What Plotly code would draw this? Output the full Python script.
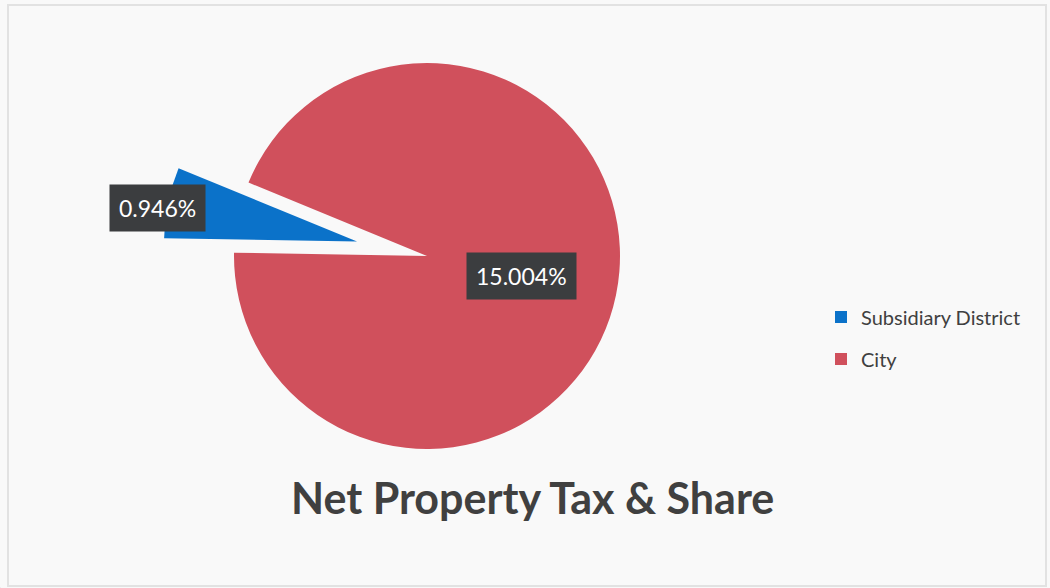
import math
import plotly.graph_objects as go

# Share of net property tax, in percent
labels = ["Subsidiary District", "City"]
shares = [0.946, 15.004]
colors = ["#0B72C9", "#D0505C"]

W, H = 1050, 588
CX, CY, R = 427, 256, 193          # pie centre and radius, px
ROTATION = 271                     # start angle, degrees clockwise from 12 o'clock
PULL = 0.37                        # exploded distance of the small slice, fraction of R

total = sum(shares)
frac = [v / total for v in shares]


def slice_angle(i, t=0.5):
    # angle at fraction t across slice i, degrees clockwise from 12 o'clock
    start = ROTATION + 360 * sum(frac[:i])
    return math.radians(start + 360 * frac[i] * t)


def unit(a):
    # screen-space unit vector for an angle measured clockwise from the top
    return math.sin(a), -math.cos(a)


def domain(cx, cy, r):
    return dict(x=[(cx - r) / W, (cx + r) / W], y=[1 - (cy + r) / H, 1 - (cy - r) / H])


clear = "rgba(0,0,0,0)"
ux, uy = unit(slice_angle(0))
bcx, bcy = CX + ux * PULL * R, CY + uy * PULL * R

fig = go.Figure()

# main disc: City slice, gap where the small slice was
fig.add_trace(go.Pie(
    labels=labels, values=shares, sort=False, direction="clockwise", rotation=ROTATION,
    marker=dict(colors=[clear, colors[1]]), textinfo="none", hoverinfo="label+value",
    showlegend=False, domain=domain(CX, CY, R),
))
# exploded Subsidiary District slice
fig.add_trace(go.Pie(
    labels=labels, values=shares, sort=False, direction="clockwise", rotation=ROTATION,
    marker=dict(colors=[colors[0], clear]), textinfo="none", hoverinfo="label+value",
    showlegend=False, domain=domain(bcx, bcy, R),
))
# legend entries, one per legend box
for i, lg in enumerate(["legend", "legend2"]):
    fig.add_trace(go.Pie(
        labels=[labels[i]], values=[shares[i]], marker=dict(colors=[colors[i]]),
        textinfo="none", hoverinfo="skip", showlegend=True, legend=lg,
        domain=dict(x=[0, 0.0005], y=[0, 0.0005]),
    ))

# value labels with dark boxes
lx, ly = unit(slice_angle(0, 0.4))
vx, vy = unit(slice_angle(1))
label_pos = [
    (bcx + lx * 1.05 * R, bcy + ly * 1.05 * R),
    (CX + vx * 0.5 * R, CY + vy * 0.5 * R),
]

annotations = []
for (px, py), v in zip(label_pos, shares):
    annotations.append(dict(
        x=px / W, y=1 - py / H, xref="paper", yref="paper", showarrow=False,
        text=f"{v:.3f}%", font=dict(family="Lato", size=23, color="#ffffff"),
        bgcolor="#3b3d3f", borderpad=9, xanchor="center", yanchor="middle",
    ))
annotations.append(dict(
    x=532 / W, y=1 - 497 / H, xref="paper", yref="paper", showarrow=False,
    text="<b>Net Property Tax & Share</b>",
    font=dict(family="Lato", size=43, color="#404040"),
    xanchor="center", yanchor="middle",
))

legend_style = dict(
    font=dict(family="Lato", size=20, color="#404040"), bgcolor="rgba(0,0,0,0)",
    xanchor="left", yanchor="middle", x=821 / W,
)

fig.update_layout(
    width=W, height=H,
    margin=dict(l=0, r=0, t=0, b=0),
    paper_bgcolor="#f9f9f9",
    annotations=annotations,
    legend=dict(**legend_style, y=1 - 317 / H),
    legend2=dict(**legend_style, y=1 - 359 / H),
    shapes=[dict(type="rect", xref="paper", yref="paper",
                 x0=8 / W, x1=1046 / W, y0=1 - 586 / H, y1=1 - 5 / H,
                 line=dict(color="#e2e2e2", width=2), layer="below")],
)

fig.write_html("out.html")
